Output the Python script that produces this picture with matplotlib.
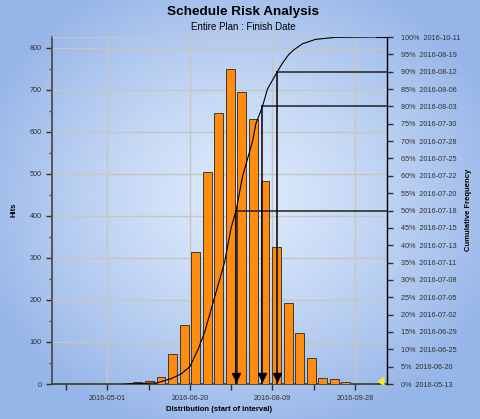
import numpy as np
import matplotlib.pyplot as plt
import matplotlib.dates as mdates

plt.rcParams['font.family'] = ['Liberation Sans', 'DejaVu Sans']

# weekly histogram of simulated finish dates (start of interval)
bin_start = ["2016-05-09", "2016-05-16", "2016-05-23", "2016-05-30", "2016-06-06",
             "2016-06-13", "2016-06-20", "2016-06-27", "2016-07-04", "2016-07-11",
             "2016-07-18", "2016-07-25", "2016-08-01", "2016-08-08", "2016-08-15",
             "2016-08-22", "2016-08-29", "2016-09-05", "2016-09-12", "2016-09-19"]
hits = [2, 4, 7, 16, 71, 140, 314, 505, 644, 749,
        696, 630, 483, 327, 192, 122, 61, 15, 11, 5]

# percentile table on the right axis
pct_levels = [0, 5, 10, 15, 20, 25, 30, 35, 40, 45, 50,
              55, 60, 65, 70, 75, 80, 85, 90, 95, 100]
pct_dates = ["2016-05-13", "2016-06-20", "2016-06-25", "2016-06-29", "2016-07-02",
             "2016-07-05", "2016-07-08", "2016-07-11", "2016-07-13", "2016-07-15",
             "2016-07-18", "2016-07-20", "2016-07-22", "2016-07-25", "2016-07-28",
             "2016-07-30", "2016-08-03", "2016-08-06", "2016-08-12", "2016-08-19",
             "2016-10-11"]

cum_dates = ["2016-05-13", "2016-05-31", "2016-06-09", "2016-06-15", "2016-06-20",
             "2016-06-25", "2016-06-29", "2016-07-02", "2016-07-05", "2016-07-08",
             "2016-07-11", "2016-07-13", "2016-07-15", "2016-07-18", "2016-07-20",
             "2016-07-22", "2016-07-25", "2016-07-28", "2016-07-30", "2016-08-03",
             "2016-08-06", "2016-08-12", "2016-08-15", "2016-08-19", "2016-08-22",
             "2016-08-27", "2016-09-04", "2016-09-16", "2016-10-11"]
cum_pct = [0, 0.3, 1.6, 3.0, 5, 10, 15, 20, 25, 30, 35, 40, 45, 50, 55, 60,
           65, 70, 75, 80, 85, 90, 92.4, 95, 96.3, 98, 99.3, 99.9, 100]

marked = [50, 80, 90]

tick_dates = ["2016-04-06", "2016-05-01", "2016-05-26", "2016-06-20",
              "2016-07-15", "2016-08-09", "2016-09-03", "2016-09-28"]
label_dates = ["2016-05-01", "2016-06-20", "2016-08-09", "2016-09-28"]

marker_date = "2016-10-12"


def dnum(lst):
    return mdates.date2num(np.array(lst, dtype="datetime64[D]"))


fig = plt.figure(figsize=(4.8, 4.19), dpi=100)

# background gradient
bg = fig.add_axes([0, 0, 1, 1], zorder=-10)
yy, xx = np.mgrid[-1:1:300j, -1:1:300j]
r = np.clip(np.sqrt((xx / 1.15) ** 2 + ((yy + 0.05) / 1.15) ** 2), 0, 1)
c0 = np.array([0.87, 0.92, 0.985])
c1 = np.array([0.59, 0.71, 0.91])
bg.imshow(c0 + (c1 - c0) * r[..., None] ** 1.3, aspect='auto', extent=[0, 1, 0, 1])
bg.axis('off')

ax = fig.add_axes([52 / 480, 35 / 419, 335 / 480, 347 / 419])
ax.patch.set_alpha(0)

centers = dnum(bin_start) + 3.5
ax.bar(centers, hits, width=5.4, color='#ff8c0f', edgecolor='#3a3a3a',
       linewidth=0.7, zorder=3)

xmin = mdates.date2num(np.datetime64("2016-03-28T12:00"))
xmax = mdates.date2num(np.datetime64("2016-10-17T10:00"))
ax.set_xlim(xmin, xmax)
ax.set_ylim(0, 826)

ax.set_yticks(np.arange(0, 801, 100))
ax.set_yticks(np.arange(50, 801, 100), minor=True)
ax.yaxis.grid(True, color='#c6c6c2', lw=1, zorder=0)
for d in dnum(label_dates):
    ax.axvline(d, color='#c6c6c2', lw=1, zorder=0)

ax.set_xticks(dnum(tick_dates))
ax.set_xticklabels([d if d in label_dates else "" for d in tick_dates])
ax.tick_params(axis='both', labelsize=5.2, colors='#303030', length=4, width=1,
               direction='out')
ax.tick_params(axis='y', which='minor', length=2.5, width=1, colors='#505050')
ax.tick_params(axis='x', pad=4)

ax.spines['left'].set_color('#555555')
ax.spines['left'].set_linewidth(1.4)
ax.spines['bottom'].set_color('#3a3a22')
ax.spines['bottom'].set_linewidth(1.2)
ax.spines['top'].set_color('#c6c6c2')
ax.spines['right'].set_visible(False)

# cumulative axis
ax2 = ax.twinx()
ax2.set_ylim(0, 100)
ax2.set_yticks(pct_levels)
ax2.set_yticklabels([f"{p}%  {d}" for p, d in zip(pct_levels, pct_dates)])
ax2.tick_params(axis='y', labelsize=5.2, colors='#303030', length=4, width=1,
                direction='out', pad=6)
for s in ['left', 'top', 'bottom']:
    ax2.spines[s].set_visible(False)
ax2.spines['right'].set_color('black')
ax2.spines['right'].set_linewidth(1)

cx = dnum(cum_dates)
ax2.plot(cx, cum_pct, color='black', lw=0.8, zorder=5)
ax2.plot([cx[-1], xmax], [100, 100], color='black', lw=0.8)

pd_num = dict(zip(pct_levels, dnum(pct_dates)))
for p in marked:
    d = pd_num[p]
    ax2.plot([d, xmax], [p, p], color='#202020', lw=1.1)
    ax2.plot([d, d], [p, 0], color='black', lw=1.1)
    ax2.plot(d, 2.0, marker='v', color='black', markersize=6)

ax2.plot(dnum([marker_date]), [0.9], marker=4, color='#f5f020', markersize=6)

fig.text(0.506, 1 - 12 / 419, "Schedule Risk Analysis", ha='center', va='center',
         fontsize=9.7, fontweight='bold')
fig.text(0.506, 1 - 27 / 419, "Entire Plan : Finish Date", ha='center', va='center',
         fontsize=7)
fig.text(14 / 480, 1 - 210 / 419, "Hits", rotation=90, ha='center', va='center',
         fontsize=5.5, fontweight='bold')
fig.text(219 / 480, 1 - 409 / 419, "Distribution (start of interval)", ha='center',
         va='center', fontsize=5.5, fontweight='bold')
fig.text(468 / 480, 1 - 210 / 419, "Cumulative Frequency", rotation=90,
         ha='center', va='center', fontsize=5.5, fontweight='bold')

fig.savefig("out.png", dpi=100)
